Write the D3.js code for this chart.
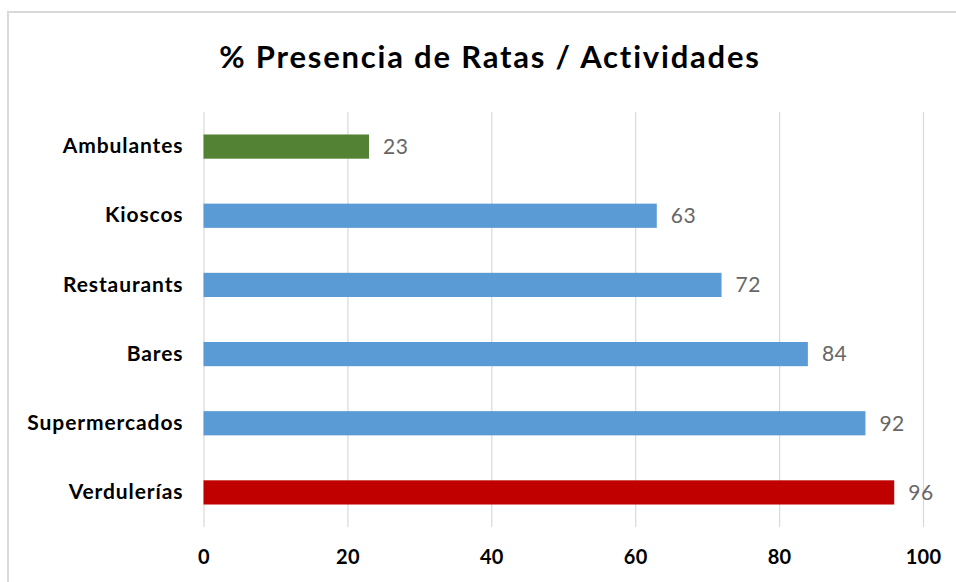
<!DOCTYPE html>
<html>
<head>
<meta charset="utf-8">
<script src="https://cdn.jsdelivr.net/npm/d3@7"></script>
<style>
    html, body { margin: 0; padding: 0; background: #fff; }
    svg { display: block; font-family: Lato, "Open Sans", sans-serif; }
</style>
</head>
<body>
<div id="chart"></div>
<script>
const categories = ['Ambulantes', 'Kioscos', 'Restaurants', 'Bares', 'Supermercados', 'Verdulerías'];
const values = [23, 63, 72, 84, 92, 96];
const barColors = ['#548235', '#5b9bd5', '#5b9bd5', '#5b9bd5', '#5b9bd5', '#c00000'];
const xTicks = [0, 20, 40, 60, 80, 100];
const title = '% Presencia de Ratas / Actividades';

const width = 956;
const height = 582;
const margin = { top: 112, right: 33, bottom: 55, left: 203.5 };

const rows = categories.map((c, i) => ({ name: c, value: values[i], color: barColors[i] }));

const svg = d3.select('#chart')
    .append('svg')
    .attr('width', width)
    .attr('height', height);

// chart frame (only top + left edges visible in the picture)
svg.append('path')
    .attr('d', `M8,${height} V12 H${width}`)
    .attr('fill', 'none')
    .attr('stroke', '#d9d9d9')
    .attr('stroke-width', 2);

const xScale = d3.scaleLinear()
    .domain([0, 100])
    .range([margin.left, width - margin.right]);

const yScale = d3.scaleBand()
    .domain(categories)
    .range([margin.top, height - margin.bottom])
    .paddingInner(0.65)
    .paddingOuter(0.325);

// gridlines
svg.append('g')
    .attr('class', 'gridlines')
    .attr('transform', `translate(0, ${height - margin.bottom})`)
    .call(d3.axisBottom(xScale).tickValues(xTicks).tickFormat('').tickSize(-(height - margin.top - margin.bottom)))
    .call(g => g.select('.domain').remove())
    .call(g => g.selectAll('line').attr('stroke', '#d9d9d9').attr('stroke-width', 1.2));

// x axis labels
svg.append('g')
    .attr('class', 'x-axis')
    .attr('transform', `translate(0, ${height - margin.bottom})`)
    .call(d3.axisBottom(xScale).tickValues(xTicks).tickSize(0).tickPadding(23))
    .call(g => g.select('.domain').remove())
    .call(g => g.selectAll('text')
        .attr('fill', '#000')
        .style('font-size', '20px')
        .style('font-weight', 'bold')
        .style('letter-spacing', '0.3px')
        .style('font-family', 'Lato, sans-serif'));

// y axis labels
svg.append('g')
    .attr('class', 'y-axis')
    .attr('transform', `translate(${margin.left}, 0)`)
    .call(d3.axisLeft(yScale).tickSize(0).tickPadding(20))
    .call(g => g.select('.domain').remove())
    .call(g => g.selectAll('text')
        .attr('fill', '#000')
        .style('font-size', '21px')
        .style('font-weight', 'bold')
        .style('letter-spacing', '0.9px')
        .style('font-family', 'Lato, sans-serif'));

// bars
svg.append('g')
    .selectAll('rect')
    .data(rows)
    .join('rect')
    .attr('x', xScale(0))
    .attr('y', d => yScale(d.name))
    .attr('width', d => xScale(d.value) - xScale(0))
    .attr('height', yScale.bandwidth())
    .attr('fill', d => d.color);

// value labels
svg.append('g')
    .selectAll('text')
    .data(rows)
    .join('text')
    .attr('x', d => xScale(d.value) + 14)
    .attr('y', d => yScale(d.name) + yScale.bandwidth() / 2)
    .attr('dy', '0.35em')
    .attr('fill', '#666')
    .style('font-size', '21px')
    .style('letter-spacing', '0.5px')
    .text(d => d.value);

// title
svg.append('text')
    .attr('x', 490)
    .attr('y', 57)
    .attr('dy', '0.35em')
    .attr('text-anchor', 'middle')
    .attr('fill', '#000')
    .style('font-size', '31px')
    .style('font-weight', 'bold')
    .style('letter-spacing', '1.8px')
    .text(title);
</script>
</body>
</html>
